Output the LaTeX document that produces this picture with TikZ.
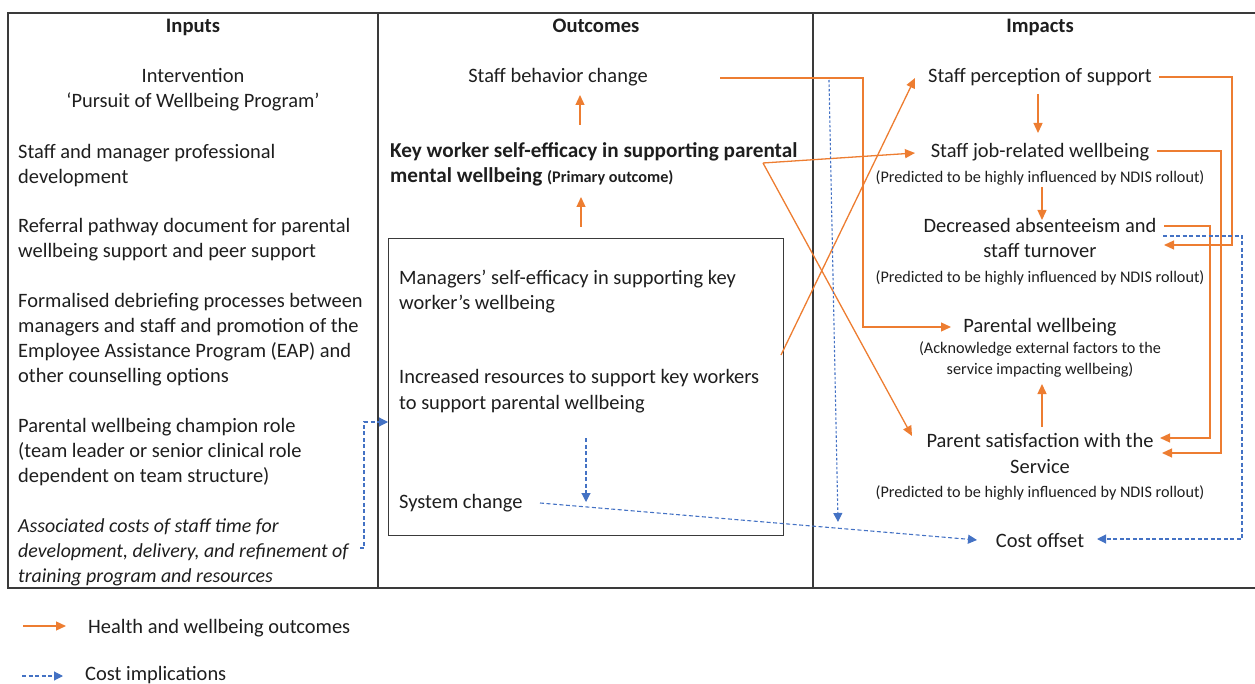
\documentclass[tikz,border=0pt]{standalone}
\usepackage{fontspec}
\setmainfont{Carlito}
\usetikzlibrary{arrows.meta}
\definecolor{org}{HTML}{ED7D31}
\definecolor{blu}{HTML}{4472C4}
\definecolor{frm}{HTML}{3A3A3A}
\definecolor{txt}{HTML}{1E1E1E}
\begin{document}
\begin{tikzpicture}[x=1pt,y=-1pt,
  every node/.style={inner sep=0pt,text=txt},
  body/.style={font=\fontsize{20.45}{25}\selectfont},
  bodyi/.style={font=\fontsize{19.9}{25}\selectfont\itshape},
  hd/.style={font=\fontsize{20.6}{24}\selectfont\bfseries},
  kb/.style={font=\fontsize{21.2}{25}\selectfont\bfseries},
  sm/.style={font=\fontsize{16.2}{19}\selectfont},
  frame/.style={draw=frm,line width=1.4pt},
  oarr/.style={draw=org,line width=1.3pt,-{Triangle[length=10pt,width=9pt]}},
  oline/.style={draw=org,line width=1.3pt},
  barr/.style={draw=blu,line width=1.1pt,dash pattern=on 4pt off 2.5pt,-{Triangle[length=9pt,width=9pt]}},
  bdot/.style={draw=blu,line width=1.1pt,dash pattern=on 2.5pt off 2pt,-{Triangle[length=9pt,width=9pt]}},
]
\useasboundingbox (0,0) rectangle (1255,684);
% frame
\draw[frame] (1258,13) -- (8,13) -- (8,588) -- (1258,588);
\draw[frame] (378,13) -- (378,588);
\draw[frame] (813,13) -- (813,588);
\node[draw=frm,line width=1.4pt,anchor=north west,minimum width=395pt,minimum height=297pt] (box) at (388,238) {};
% headers
\node[hd,anchor=base] (hin) at (193,33) {Inputs};
\node[hd,anchor=base] (hout) at (596,33) {Outcomes};
\node[hd,anchor=base] (himp) at (1040,33) {Impacts};
% inputs
\node[body,anchor=base] (i1a) at (193,83) {Intervention};
\node[body,anchor=base] (i1b) at (193,108) {‘Pursuit of Wellbeing Program’};
\node[body,anchor=base west] (i2a) at (18,158.5) {Staff and manager professional};
\node[body,anchor=base west] (i2b) at (18,183.5) {development};
\node[body,anchor=base west] (i3a) at (18,233) {Referral pathway document for parental};
\node[body,anchor=base west] (i3b) at (18,258) {wellbeing support and peer support};
\node[body,anchor=base west] (i4a) at (18,308) {Formalised debriefing processes between};
\node[body,anchor=base west] (i4b) at (18,333) {managers and staff and promotion of the};
\node[body,anchor=base west] (i4c) at (18,357) {Employee Assistance Program (EAP) and};
\node[body,anchor=base west] (i4d) at (18,382) {other counselling options};
\node[body,anchor=base west] (i5a) at (18,432) {Parental wellbeing champion role};
\node[body,anchor=base west] (i5b) at (18,457) {(team leader or senior clinical role};
\node[body,anchor=base west] (i5c) at (18,482) {dependent on team structure)};
\node[bodyi,anchor=base west] (i6a) at (18,532) {Associated costs of staff time for};
\node[bodyi,anchor=base west] (i6b) at (18,557) {development, delivery, and refinement of};
\node[bodyi,anchor=base west] (i6c) at (18,582) {training program and resources};
% outcomes
\node[body,anchor=base] (sbc) at (558,83) {Staff behavior change};
\node[kb,anchor=base west] (kwa) at (390,158) {Key worker self-efficacy in supporting parental};
\node[kb,anchor=base west] (kwb) at (390,183) {mental wellbeing \fontsize{16.2}{19}\selectfont(Primary outcome)};
\node[body,anchor=base west] (mga) at (399,285) {Managers’ self-efficacy in supporting key};
\node[body,anchor=base west] (mgb) at (399,310) {worker’s wellbeing};
\node[body,anchor=base west] (ira) at (399,383) {Increased resources to support key workers};
\node[body,anchor=base west] (irb) at (399,409) {to support parental wellbeing};
\node[body,anchor=base west] (sys) at (399,508) {System change};
% impacts
\node[body,anchor=base] (sps) at (1040,83) {Staff perception of support};
\node[body,anchor=base] (sjw) at (1040,158) {Staff job-related wellbeing};
\node[sm,anchor=base] (sjwp) at (1040,183) {(Predicted to be highly influenced by NDIS rollout)};
\node[body,anchor=base] (deca) at (1040,233) {Decreased absenteeism and};
\node[body,anchor=base] (decb) at (1040,258) {staff turnover};
\node[sm,anchor=base] (decp) at (1040,283) {(Predicted to be highly influenced by NDIS rollout)};
\node[body,anchor=base] (pw) at (1040,333) {Parental wellbeing};
\node[sm,anchor=base] (pwa) at (1040,354) {(Acknowledge external factors to the};
\node[sm,anchor=base] (pwb) at (1040,374) {service impacting wellbeing)};
\node[body,anchor=base] (psa) at (1040,447) {Parent satisfaction with the};
\node[body,anchor=base] (psb) at (1040,473) {Service};
\node[sm,anchor=base] (psp) at (1040,497) {(Predicted to be highly influenced by NDIS rollout)};
\node[body,anchor=base] (cost) at (1040,547) {Cost offset};
% connector coordinates
\coordinate (sbcR) at (720,78);
\coordinate (kwR) at (763,163);
\coordinate (irR) at (781,355);
\coordinate (sbcT) at (580,95);
\coordinate (sbcB) at (580,125);
\coordinate (kwT) at (581,197);
\coordinate (kwB) at (581,227);
\coordinate (spsB) at (1038,94);
\coordinate (sjwT) at (1038,133);
\coordinate (sjwB) at (1042,187);
\coordinate (decT) at (1042,220);
\coordinate (pwB) at (1042,384);
\coordinate (psT) at (1042,427);
\coordinate (spsR) at (1159,77);
\coordinate (decR1) at (1164,245);
\coordinate (sjwR) at (1157,151);
\coordinate (psR2) at (1162,453);
\coordinate (decR) at (1164,226);
\coordinate (psR1) at (1160,438);
\coordinate (pwL) at (951,327);
\coordinate (spsL) at (915,78);
\coordinate (sjwL) at (915,153);
\coordinate (psL) at (912,436);
% orange
\draw[oarr] (kwB) -- (kwT);
\draw[oarr] (sbcB) -- (sbcT);
\draw[oarr] (spsB) -- (sjwT);
\draw[oarr] (sjwB) -- (decT);
\draw[oarr] (psT) -- (pwB);
\draw[oarr] (sbcR) -- (863,78) -- (863,327) -- (pwL);
\draw[oarr] (kwR) -- (sjwL);
\draw[oarr] (kwR) -- (psL);
\draw[oarr] (irR) -- (spsL);
\draw[oarr] (spsR) -- (1232,77) -- (1232,245) -- (decR1);
\draw[oarr] (sjwR) -- (1221,151) -- (1221,453) -- (psR2);
\draw[oarr] (decR) -- (1210,226) -- (1210,438) -- (psR1);
% blue
\coordinate (i6R) at (360,548);
\coordinate (boxIn) at (388,422);
\draw[barr] (i6R) -- (364,548) -- (364,422) -- (boxIn);
\draw[barr] (586,438) -- (586,502);
\draw[barr] (540,503) -- (977,540);
\draw[bdot] (829,80) -- (838,522);
\draw[barr] (1163,236) -- (1242,236) -- (1242,539) -- (1097,539);
% legend
\coordinate (lo1) at (23,626);
\coordinate (lo2) at (66,626);
\coordinate (lb1) at (22,676);
\coordinate (lb2) at (63,676);
\draw[oarr] (lo1) -- (lo2);
\draw[barr] (lb1) -- (lb2);
\node[body,anchor=base west] (lgo) at (88,633) {Health and wellbeing outcomes};
\node[body,anchor=base west] (lgb) at (85,680) {Cost implications};
\end{tikzpicture}
\end{document}
